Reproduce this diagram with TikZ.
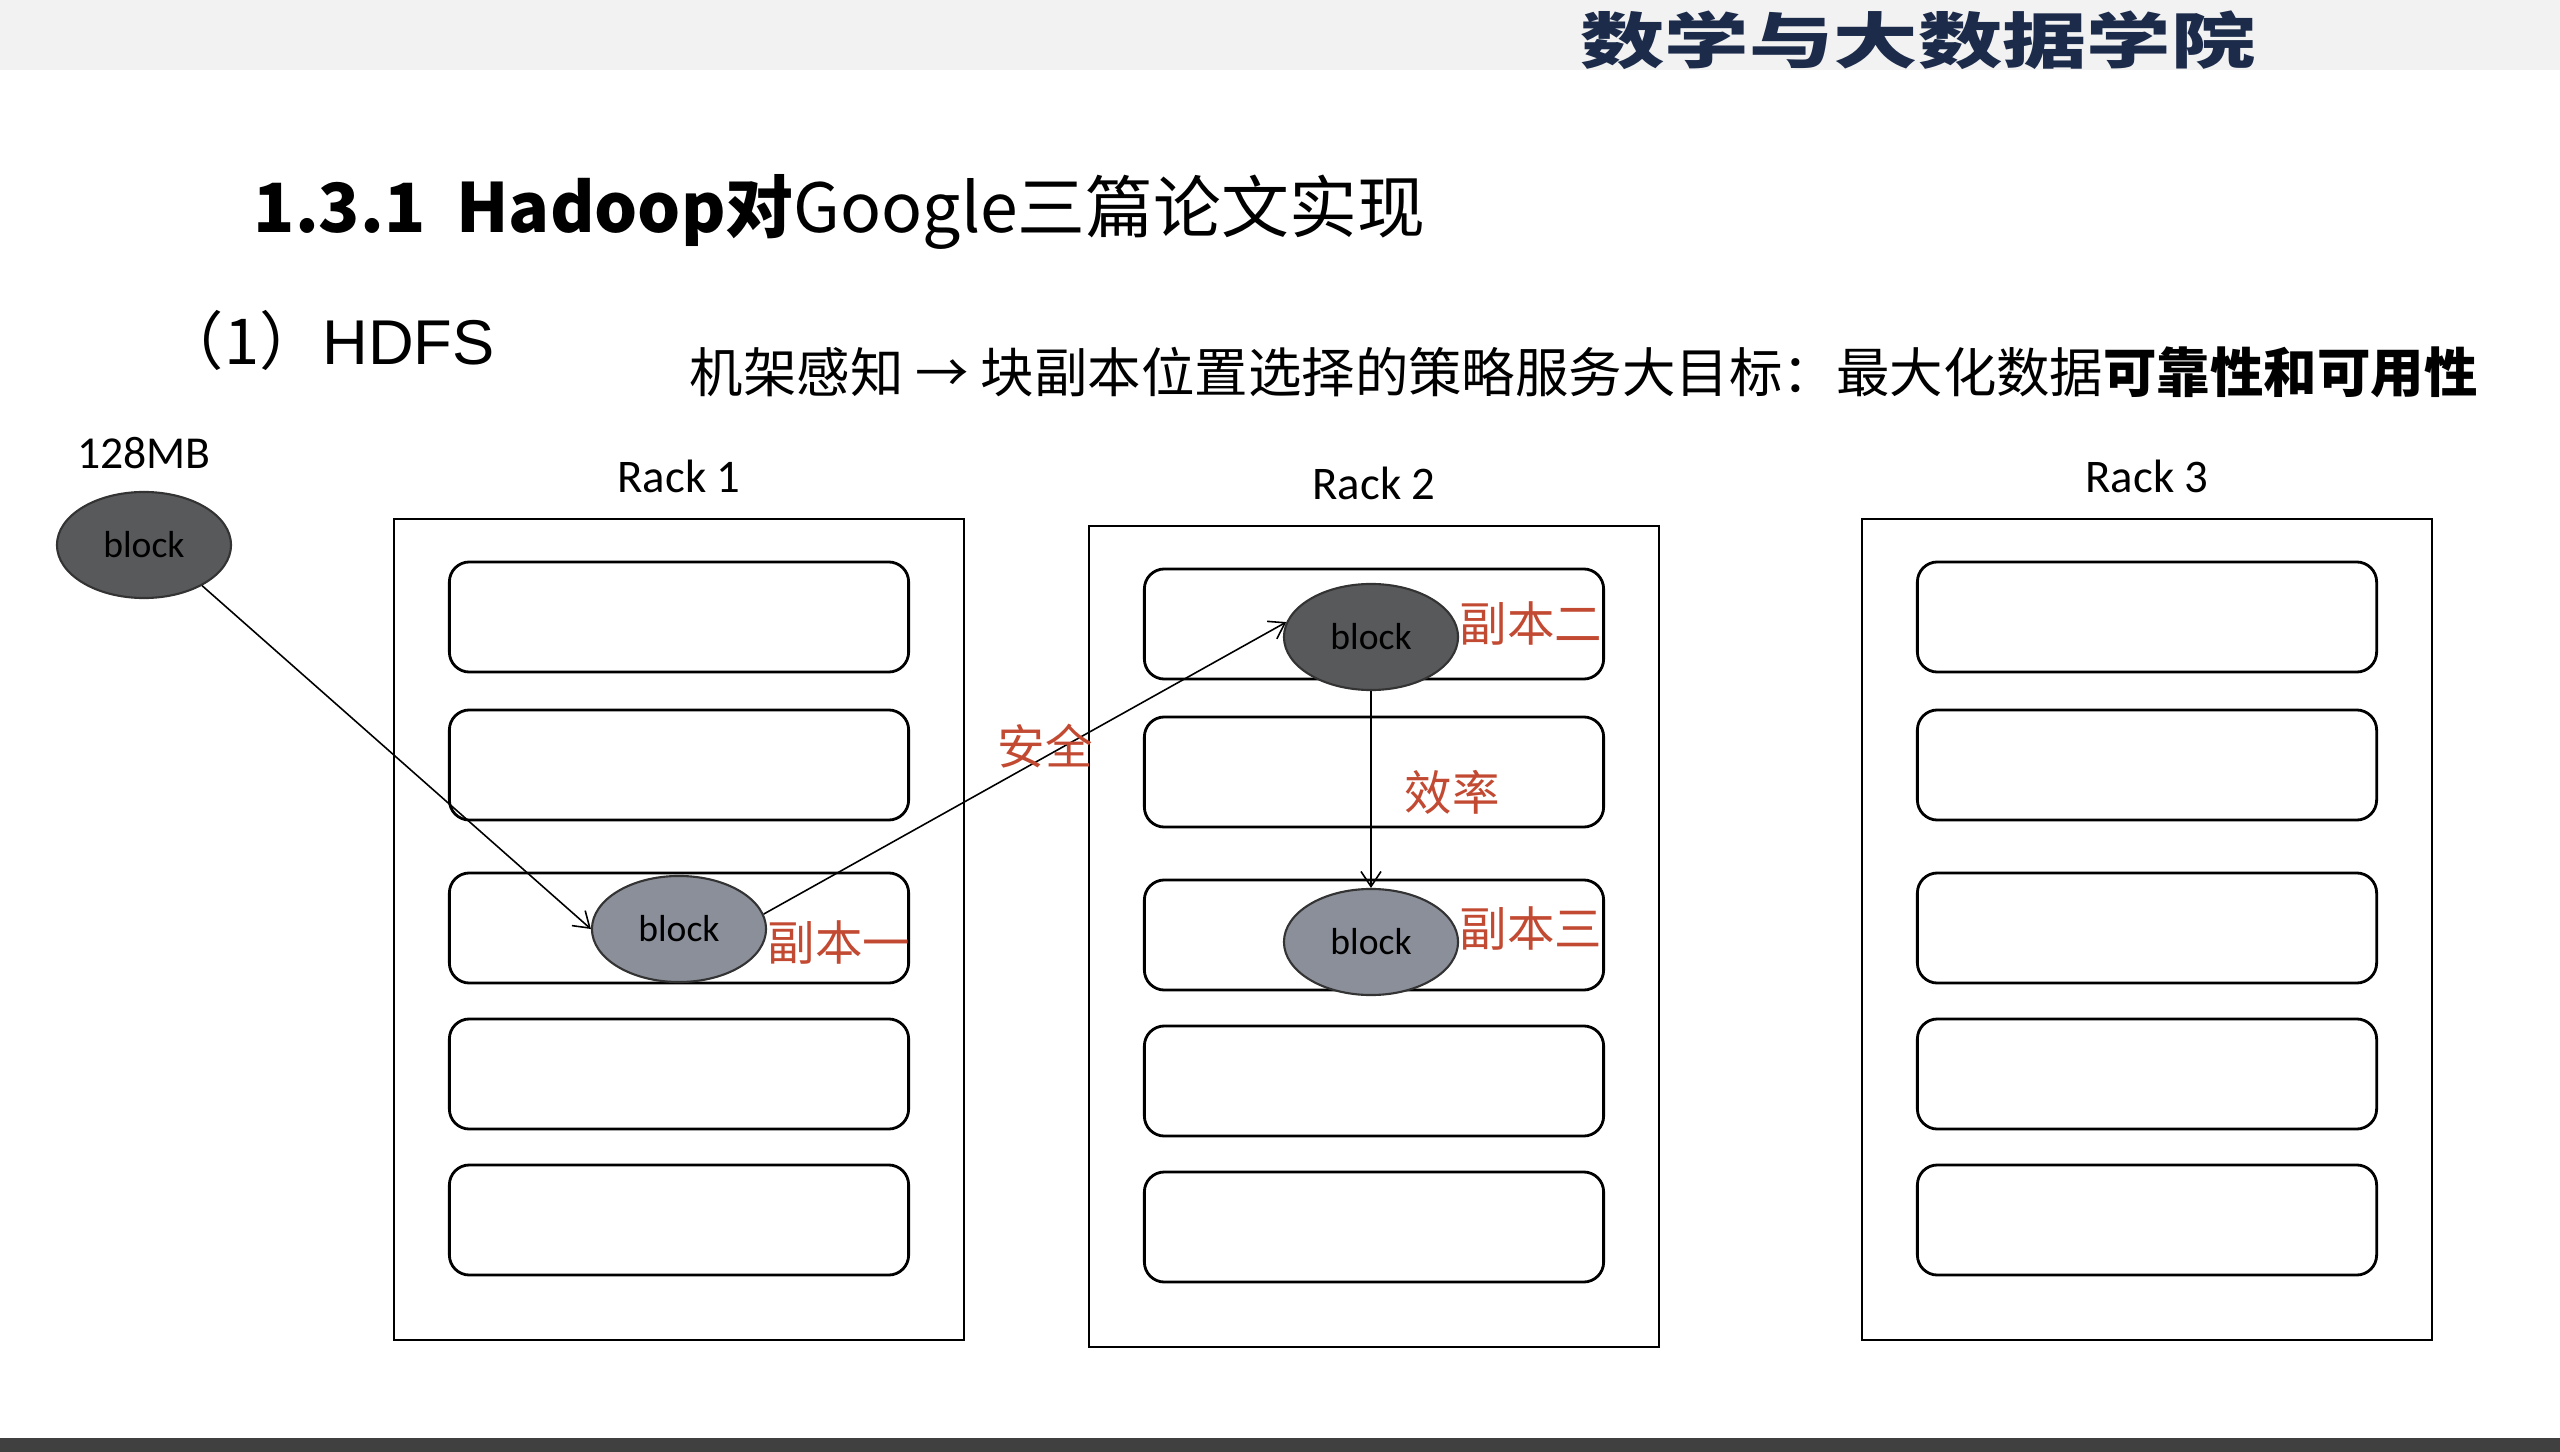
\documentclass[tikz,border=0pt]{standalone}
\usepackage{graphicx}
\usepackage{fontspec}
\setmainfont{Carlito}
\newfontfamily\cjk{Noto Sans CJK SC}
\newfontfamily\arialfont{Liberation Sans}
\usetikzlibrary{positioning,arrows.meta,shapes.geometric}
\definecolor{replica}{HTML}{C24A32}
\definecolor{college}{HTML}{1C2B4A}
\definecolor{blockdark}{HTML}{58595B}
\definecolor{blocklight}{HTML}{8B8F99}
\tikzset{
  rack/.style      = {draw, line width=0.7pt, minimum width=5.7cm, minimum height=8.21cm, inner sep=0pt},
  server/.style    = {draw, line width=0.8pt, rounded corners=2mm, minimum width=4.59cm, minimum height=1.1cm, inner sep=0pt},
  block/.style     = {ellipse, draw=black!80, line width=0.6pt, minimum width=1.74cm, minimum height=1.06cm, inner sep=0pt, font=\fontsize{10.7}{12}\selectfont},
  replica/.style   = {text=replica, inner sep=0pt, font=\cjk\fontsize{13.5}{15}\selectfont},
  racklabel/.style = {font=\fontsize{13.3}{15}\selectfont}
}
\begin{document}
\begin{tikzpicture}
  [
    x = 0.01cm, y = -0.01cm,
    replicate/.style = {draw, line width=0.45pt, -{Straight Barb[length=1.5mm,width=2mm]}}
  ]
  \useasboundingbox (0,0) rectangle (2560,1452);
  \fill[gray!10] (0,0) rectangle (2560,70);
  \fill[black!75] (0,1438) rectangle (2560,1452);
  % headings
  \node[text=college, inner sep=0pt, font=\cjk\bfseries\fontsize{24}{26}\selectfont] (college) at (1918,40) {\scalebox{1}[0.72]{数学与大数据学院}};
  \node[anchor=west, inner sep=0pt, font=\cjk\fontsize{19.3}{22}\selectfont] (title) at (253,212) {{\bfseries 1.3.1\ \ Hadoop对}Google三篇论文实现};
  \node[anchor=west, inner sep=0pt, font=\cjk\fontsize{18}{22}\selectfont] (hdfs) at (160,340) {（1）{\arialfont HDFS}};
  \node[anchor=west, inner sep=0pt, font=\cjk\fontsize{15.2}{18}\selectfont] (goal) at (689,372) {机架感知 → 块副本位置选择的策略服务大目标：最大化数据{\bfseries 可靠性和可用性}};
  % racks and servers
  \foreach \r/\x/\t in {1/679/519, 2/1374/526, 3/2147/519}{
    \node[rack] (rack\r) at (\x,{\t+410.5}) {};
    \node[racklabel, above=0.12cm of rack\r] (label\r) {Rack \r};
    \foreach \s/\d in {1/98, 2/246, 3/409, 4/555, 5/701}
      \node[server] (rack\r-\s) at (\x,{\t+\d}) {};
  }
  % blocks
  \node[block, fill=blockdark] (source) at (144,545) {block};
  \node[above=0.1cm of source, font=\fontsize{13}{15}\selectfont] (size) {128MB};
  \node[block, fill=blocklight] (copy1) at (679,929) {block};
  \node[block, fill=blockdark] (copy2) at (1371,637) {block};
  \node[block, fill=blocklight] (copy3) at (1371,942) {block};
  \node[replica, right=0pt of copy1.east, yshift=-0.13cm] (name1) {副本一};
  \node[replica, right=0pt of copy2.east, yshift=0.13cm] (name2) {副本二};
  \node[replica, right=0pt of copy3.east, yshift=0.13cm] (name3) {副本三};
  % transfers
  \draw[replicate] (source.-35) -- (copy1.west);
  \draw[replicate] (copy1.10) -- (copy2.170);
  \draw[replicate] (copy2.south) -- (copy3.north);
  \node[replica] (safe) at (1045,746) {安全};
  \node[replica, anchor=west] (speed) at (1404,792) {效率};
\end{tikzpicture}
\end{document}
